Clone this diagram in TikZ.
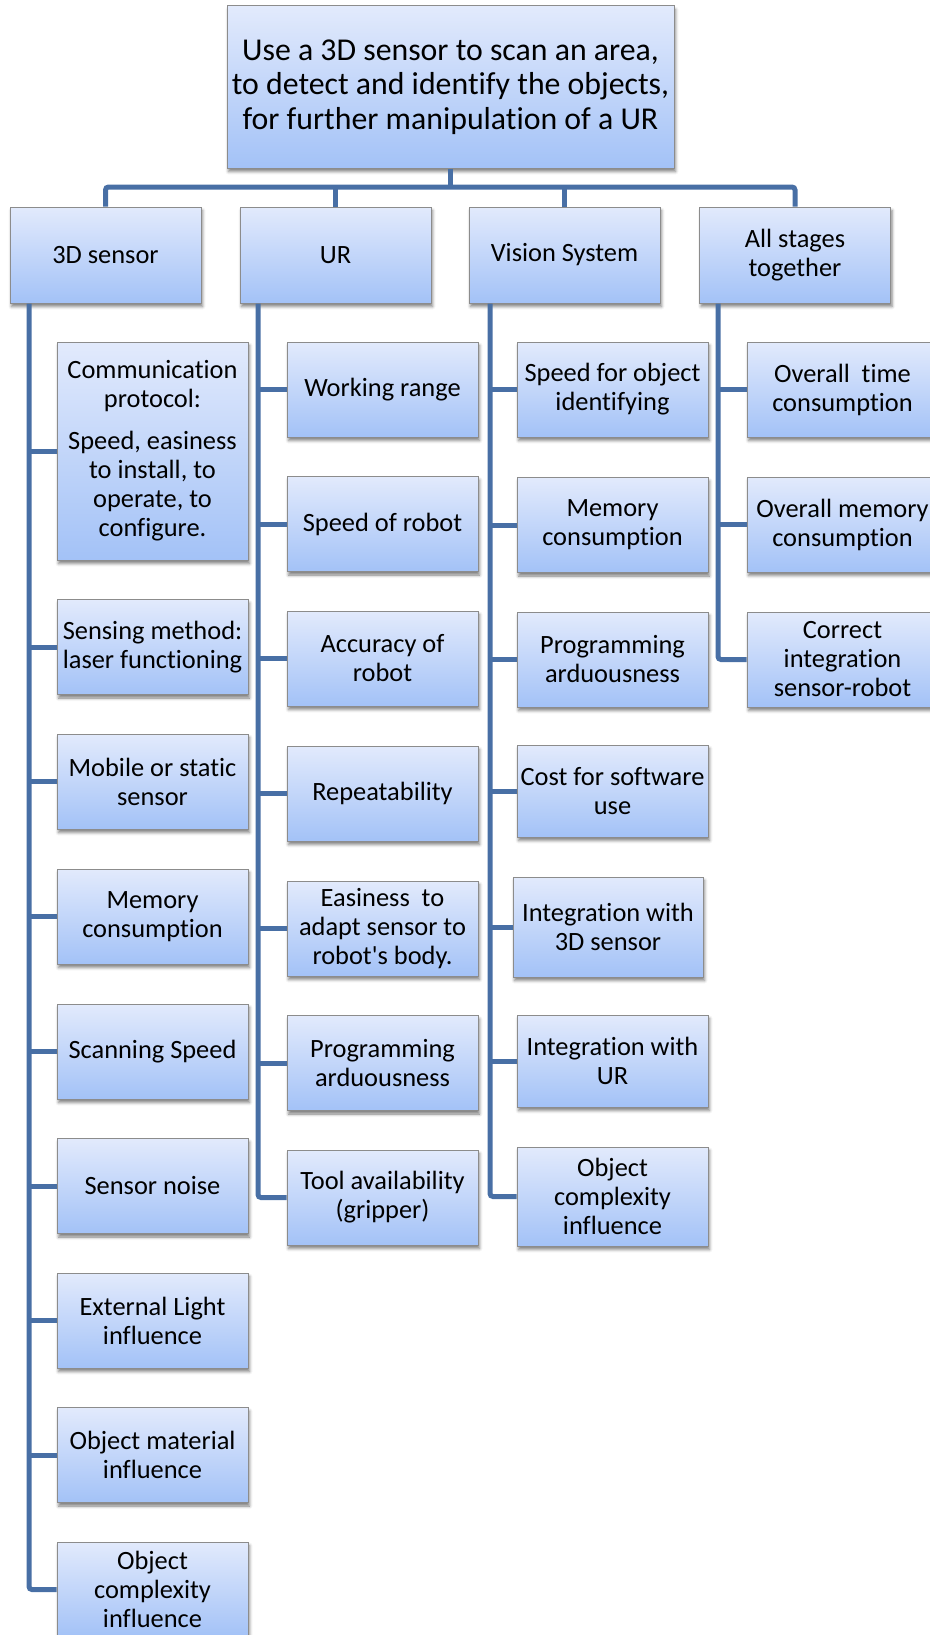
\documentclass[tikz,border=0pt]{standalone}
\usepackage{fontspec}
\setmainfont[Ligatures=NoCommon]{Carlito}
\usetikzlibrary{shadows.blur}
\definecolor{boxtop}{RGB}{226,234,252}
\definecolor{boxbot}{RGB}{163,194,247}
\definecolor{boxline}{RGB}{140,140,140}
\definecolor{connc}{RGB}{72,111,165}
\begin{document}
\begin{tikzpicture}[x=1pt,y=-1pt,
  box/.style={draw=boxline, line width=1pt, top color=boxtop, bottom color=boxbot,
    minimum width=191pt, minimum height=95pt, inner sep=0pt, align=center,
    font=\fontsize{26.4}{29}\selectfont,
    blur shadow={shadow xshift=1.5pt, shadow yshift=-3.5pt, shadow blur radius=3pt, shadow opacity=50}},
  conn/.style={draw=connc, line width=5pt, rounded corners=3pt}]
\useasboundingbox (0,0) rectangle (929,1635);

% root and top level
\node[box, minimum width=447pt, minimum height=162pt, font=\fontsize{31.8}{34.5}\selectfont] (root) at (450.5,87)
  {Use a 3D sensor to scan an area,\\to detect and identify the objects,\\for further manipulation of a UR};
\node[box, minimum height=96pt] (s3d) at (105.5,255) {3D sensor};
\node[box, minimum height=96pt] (ur) at (335.5,255) {UR};
\node[box, minimum height=96pt] (vis) at (564.5,255) {Vision System};
\node[box, minimum height=96pt] (all) at (795,255) {All stages\\together};

% 3D sensor column
\node[box, minimum height=218pt] (a1) at (152.5,451)
  {Communication\\protocol:\\[13pt]Speed, easiness\\to install, to\\operate, to\\configure.};
\node[box] (a2) at (152.5,647) {Sensing method:\\laser functioning};
\node[box] (a3) at (152.5,781.5) {Mobile or static\\sensor};
\node[box] (a4) at (152.5,916.5) {Memory\\consumption};
\node[box] (a5) at (152.5,1051.5) {Scanning Speed};
\node[box] (a6) at (152.5,1186) {Sensor noise};
\node[box] (a7) at (152.5,1320.5) {External Light\\influence};
\node[box] (a8) at (152.5,1455) {Object material\\influence};
\node[box] (a9) at (152.5,1589.5) {Object\\complexity\\influence};

% UR column
\node[box] (b1) at (382.5,389.5) {Working range};
\node[box] (b2) at (382.5,524) {Speed of robot};
\node[box] (b3) at (382.5,658.5) {Accuracy of\\robot};
\node[box] (b4) at (382.5,793.5) {Repeatability};
\node[box] (b5) at (382.5,928.5) {Easiness\ \ to\\adapt sensor to\\robot\textquotesingle s body.};
\node[box] (b6) at (382.5,1063) {Programming\\arduousness};
\node[box] (b7) at (382.5,1197.5) {Tool availability\\(gripper)};

% Vision column
\node[box] (c1) at (612.5,389.5) {Speed for object\\identifying};
\node[box] (c2) at (612.5,525) {Memory\\consumption};
\node[box] (c3) at (612.5,659.5) {Programming\\arduousness};
\node[box, minimum height=92pt] (c4) at (612.5,791) {Cost for software\\use};
\node[box, minimum height=100pt, minimum width=190pt] (c5) at (608,927) {Integration with\\3D sensor};
\node[box, minimum height=92pt] (c6) at (612.5,1061) {Integration with\\UR};
\node[box, minimum height=99pt] (c7) at (612.5,1196.5) {Object\\complexity\\influence};

% All stages column
\node[box] (d1) at (842.5,389.5) {Overall\ \ time\\consumption};
\node[box] (d2) at (842.5,524.5) {Overall memory\\consumption};
\node[box] (d3) at (842.5,659.5) {Correct\\integration\\sensor-robot};

% connectors
\coordinate (bus) at (449,187);
\draw[conn] (s3d.north) |- (bus) -| (all.north);
\draw[conn] (root.south) -- (root.south |- bus);
\draw[conn] (ur.north) -- (ur.north |- bus);
\draw[conn] (vis.north) -- (vis.north |- bus);

\coordinate (xa) at (29,0);
\coordinate (xb) at (258,0);
\coordinate (xc) at (490,0);
\coordinate (xd) at (718,0);

\draw[conn] (s3d.south -| xa) |- (a9.west);
\foreach \n in {a1,a2,a3,a4,a5,a6,a7,a8} \draw[conn] (\n.west) -- (\n.west -| xa);
\draw[conn] (ur.south -| xb) |- (b7.west);
\foreach \n in {b1,b2,b3,b4,b5,b6} \draw[conn] (\n.west) -- (\n.west -| xb);
\draw[conn] (vis.south -| xc) |- (c7.west);
\foreach \n in {c1,c2,c3,c4,c5,c6} \draw[conn] (\n.west) -- (\n.west -| xc);
\draw[conn] (all.south -| xd) |- (d3.west);
\foreach \n in {d1,d2} \draw[conn] (\n.west) -- (\n.west -| xd);
\end{tikzpicture}
\end{document}
